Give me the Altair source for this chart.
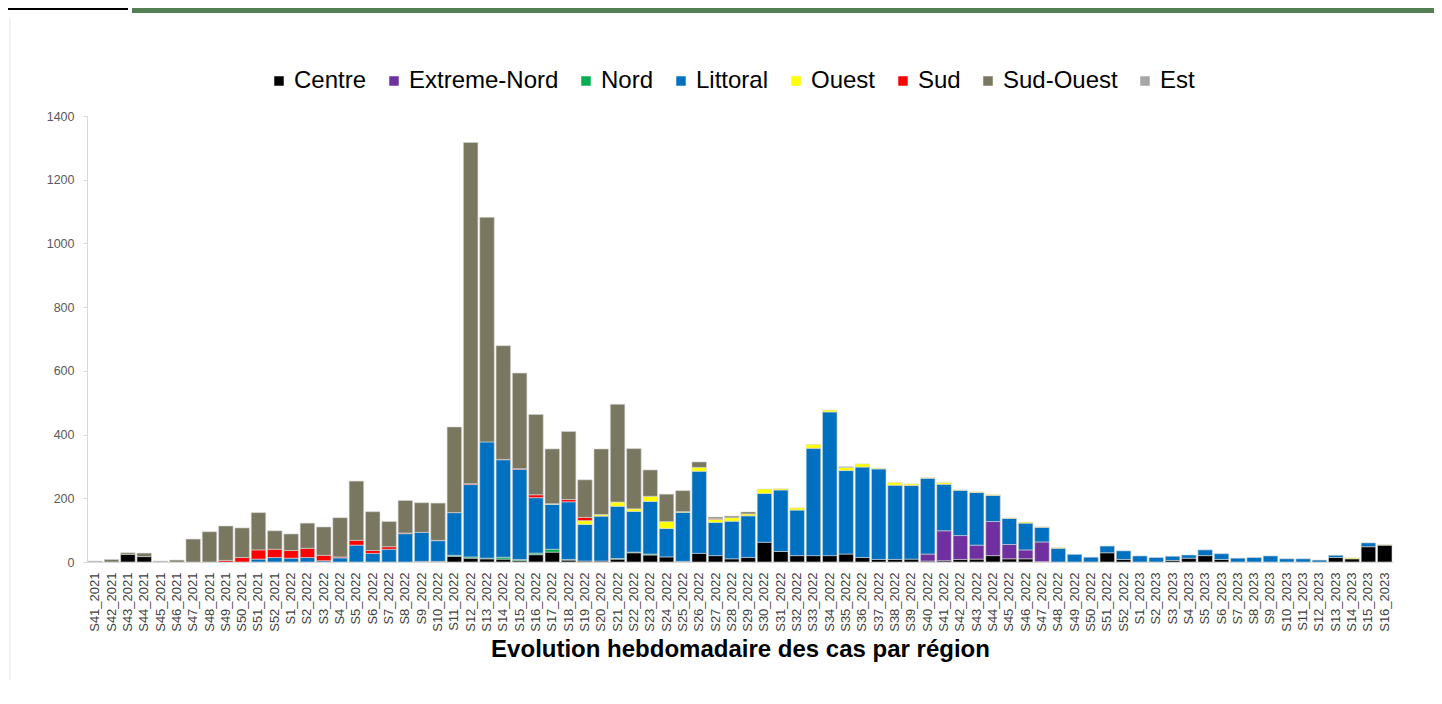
import altair as alt
import pandas as pd

# ---- categories -----------------------------------------------------------
weeks = ([f"S{w}_2021" for w in range(41, 53)]
         + [f"S{w}_2022" for w in range(1, 53)]
         + [f"S{w}_2023" for w in range(1, 17)])

regions = ["Centre", "Extreme-Nord", "Nord", "Littoral", "Ouest", "Sud", "Sud-Ouest", "Est"]
colors = ["#000000", "#7030A0", "#00B050", "#0070C0", "#FFFF00", "#FF0000", "#79775F", "#A6A6A6"]

# ---- weekly cases per region (80 weeks, S41_2021 .. S16_2023) -------------
centre = [0, 0, 24, 17, 0, 0, 0, 0, 0, 0,
          0, 0, 0, 0, 0, 0, 0, 0, 0, 0,
          2, 2, 18, 12, 10, 9, 4, 23, 31, 6,
          3, 3, 9, 29, 22, 16, 2, 27, 20, 10,
          14, 62, 33, 20, 20, 20, 25, 14, 8, 8,
          9, 3, 4, 8, 9, 20, 10, 10, 1, 0,
          0, 0, 29, 8, 0, 0, 5, 12, 20, 8,
          0, 0, 0, 0, 0, 0, 14, 10, 48, 53]

extreme_nord = [0, 0, 0, 0, 0, 0, 0, 0, 0, 0,
                0, 0, 0, 0, 0, 0, 0, 0, 0, 0,
                0, 0, 0, 0, 0, 0, 0, 0, 0, 0,
                0, 0, 0, 0, 0, 0, 0, 0, 0, 0,
                0, 0, 0, 0, 0, 0, 0, 0, 0, 0,
                0, 22, 94, 75, 44, 107, 45, 28, 62, 0,
                0, 0, 0, 0, 0, 0, 0, 0, 0, 0,
                0, 0, 0, 0, 0, 0, 0, 0, 0, 0]

nord = [0, 0, 0, 0, 0, 0, 0, 0, 0, 0,
        0, 0, 0, 0, 0, 0, 0, 0, 0, 0,
        0, 0, 3, 4, 2, 6, 4, 5, 9, 2,
        0, 0, 2, 2, 3, 0, 0, 0, 0, 0,
        0, 0, 0, 0, 0, 0, 0, 0, 0, 0,
        0, 0, 0, 0, 0, 0, 0, 0, 0, 0,
        0, 0, 0, 0, 0, 0, 0, 0, 0, 0,
        0, 0, 0, 0, 0, 0, 0, 0, 0, 0]

littoral = [0, 0, 0, 0, 0, 0, 0, 0, 0, 0,
            9, 14, 12, 14, 4, 13, 53, 27, 40, 89,
            91, 65, 134, 227, 365, 306, 283, 174, 141, 181,
            115, 141, 164, 128, 165, 89, 154, 258, 104, 118,
            131, 153, 193, 143, 337, 451, 262, 284, 284, 233,
            231, 238, 146, 142, 165, 82, 82, 84, 46, 43,
            24, 15, 21, 27, 19, 14, 13, 10, 18, 18,
            12, 14, 19, 10, 10, 6, 7, 0, 12, 0]

ouest = [0, 0, 0, 0, 0, 0, 0, 0, 0, 0,
         0, 0, 0, 0, 0, 0, 0, 0, 0, 0,
         0, 0, 0, 0, 0, 0, 0, 0, 1, 0,
         12, 5, 13, 8, 16, 22, 2, 12, 10, 11,
         6, 14, 4, 7, 12, 6, 10, 10, 2, 9,
         5, 1, 5, 1, 2, 2, 1, 3, 1, 2,
         0, 0, 0, 0, 0, 0, 0, 0, 0, 0,
         0, 0, 0, 0, 0, 0, 0, 3, 0, 1]

sud = [0, 0, 0, 0, 0, 0, 0, 0, 5, 14,
       29, 26, 24, 29, 17, 3, 15, 9, 8, 2,
       0, 1, 0, 3, 0, 1, 2, 9, 1, 7,
       10, 0, 0, 0, 0, 0, 0, 0, 2, 0,
       0, 0, 0, 0, 0, 0, 0, 0, 0, 0,
       0, 0, 0, 0, 0, 0, 0, 0, 0, 0,
       0, 0, 0, 0, 0, 0, 0, 0, 0, 0,
       0, 0, 0, 0, 0, 0, 0, 0, 0, 0]

sud_ouest = [0, 8, 5, 11, 0, 6, 72, 95, 108, 93,
             117, 58, 52, 79, 89, 123, 186, 122, 79, 102,
             93, 117, 269, 1071, 705, 357, 300, 252, 172, 214,
             118, 206, 307, 189, 83, 86, 66, 17, 5, 5,
             6, 0, 0, 0, 0, 0, 2, 0, 0, 0,
             0, 0, 0, 0, 0, 0, 0, 0, 0, 0,
             0, 0, 0, 0, 0, 0, 0, 0, 0, 0,
             0, 0, 0, 0, 0, 0, 0, 0, 0, 0]

est = [3, 0, 0, 0, 3, 0, 0, 0, 0, 0,
       0, 0, 0, 0, 0, 0, 0, 0, 0, 0,
       0, 0, 0, 0, 0, 0, 0, 0, 0, 0,
       0, 0, 0, 0, 0, 0, 0, 0, 0, 0,
       0, 0, 0, 0, 0, 0, 0, 0, 0, 0,
       0, 0, 0, 0, 0, 0, 0, 0, 0, 0,
       0, 0, 0, 0, 0, 0, 0, 0, 0, 0,
       0, 0, 0, 0, 0, 0, 0, 0, 0, 0]

y_ticks = [0, 200, 400, 600, 800, 1000, 1200, 1400]

series = [centre, extreme_nord, nord, littoral, ouest, sud, sud_ouest, est]
rows = []
for k, (reg, vals) in enumerate(zip(regions, series)):
    for wk, v in zip(weeks, vals):
        if v > 0:
            rows.append({"week": wk, "region": reg, "value": v, "ord": k})
df = pd.DataFrame(rows)

FONT = "Liberation Sans"

bars = alt.Chart(df).mark_bar(stroke="#d6d6d6", strokeWidth=0.6).encode(
    x=alt.X("week:N", sort=weeks,
            scale=alt.Scale(paddingInner=0.11, paddingOuter=0.06),
            axis=alt.Axis(title="Evolution hebdomadaire des cas par région",
                          labelAngle=270, labelFontSize=13, labelColor="#404040",
                          labelFont=FONT, ticks=False, domainColor="#d9d9d9",
                          labelPadding=10, labelOverlap=False,
                          titleFont=FONT, titleFontSize=24, titleFontWeight="bold",
                          titleColor="#000000", titlePadding=6)),
    y=alt.Y("value:Q", stack="zero",
            scale=alt.Scale(domain=[0, 1400], nice=False),
            axis=alt.Axis(title=None, values=y_ticks, grid=False, format="d",
                          labelFont=FONT, labelFontSize=12.5, labelColor="#595959",
                          domainColor="#d9d9d9", tickColor="#d9d9d9", tickSize=4,
                          labelPadding=9)),
    color=alt.Color("region:N",
                    scale=alt.Scale(domain=regions, range=colors),
                    legend=alt.Legend(title=None, orient="none", direction="horizontal",
                                      legendX=180, legendY=-47,
                                      labelFont=FONT, labelFontSize=24, labelColor="#000000",
                                      symbolType="square", symbolSize=90,
                                      symbolStrokeWidth=0, columnPadding=15,
                                      labelOffset=3)),
    order=alt.Order("ord:Q", sort="ascending"),
)

deco_df = pd.DataFrame({"k": [0]})
top_black = alt.Chart(deco_df).mark_rect(color="#000000").encode(
    x=alt.value(-79), x2=alt.value(41), y=alt.value(-108), y2=alt.value(-106))
top_green = alt.Chart(deco_df).mark_rect(color="#538052").encode(
    x=alt.value(45), x2=alt.value(1360), y=alt.value(-108), y2=alt.value(-103))
left_line = alt.Chart(deco_df).mark_rule(color="#e6e6e6", strokeWidth=1).encode(
    x=alt.value(-77), y=alt.value(-98), y2=alt.value(600))

chart = alt.layer(top_black, top_green, left_line, bars).properties(
    width=1306, height=446,
    autosize=alt.AutoSizeParams(type="none"),
    padding={"left": 79, "top": 108, "right": 41, "bottom": 118},
).configure_view(stroke=None)

chart.save("out.html", embed_options={"renderer": "svg", "actions": False})
